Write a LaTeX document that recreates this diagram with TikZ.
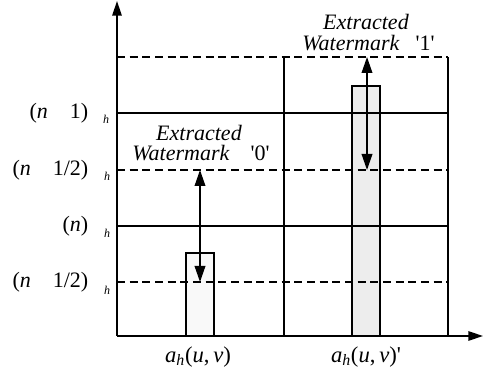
\documentclass[tikz,border=0pt]{standalone}
\usepackage{fontspec}
\setmainfont{Liberation Serif}
\usetikzlibrary{arrows.meta}
\tikzset{
  grid solid/.style={line width=1.25pt},
  grid dashed/.style={line width=1.25pt,dash pattern=on 6pt off 3.5pt},
  bar edge/.style={line width=1.1pt},
  axis/.style={line width=1.5pt,-{Triangle[length=11pt,width=7pt]}},
  swing/.style={line width=1.1pt,{Triangle[length=12pt,width=8pt]}-{Triangle[length=12pt,width=8pt]}},
  level label/.style={anchor=east,font=\fontsize{16.5}{18}\selectfont},
  sub label/.style={font=\fontsize{9}{10}\selectfont\itshape},
  mark label/.style={font=\fontsize{16.5}{18}\selectfont},
  coef label/.style={font=\fontsize{17}{19}\selectfont}
}
\begin{document}
\begin{tikzpicture}[x=0.75pt,y=0.75pt]
  \useasboundingbox (0,0) rectangle (484,373);
  % bars
  \fill[gray!5] (186,37) rectangle (214,120);
  \fill[gray!14] (352,37) rectangle (380,287);
  % levels
  \draw[grid dashed] (117,316)--(448,316);
  \draw[grid solid] (117,260)--(448,260);
  \draw[grid dashed] (117,203)--(448,203);
  \draw[grid solid] (117,147)--(448,147);
  \draw[grid dashed] (117,91)--(448,91);
  \draw[grid solid] (284,37)--(284,316);
  \draw[grid solid] (448,37)--(448,316);
  \draw[bar edge] (186,37) rectangle (214,120);
  \draw[bar edge] (352,37) rectangle (380,287);
  % axes
  \coordinate (orig) at (117,37);
  \coordinate (ytip) at (117,372);
  \coordinate (xtip) at (483,37);
  \draw[axis] (orig)--(ytip);
  \draw[axis] (orig)--(xtip);
  % extraction arrows
  \coordinate (top0) at (200,203);
  \coordinate (bot0) at (200,91);
  \coordinate (top1) at (367,316);
  \coordinate (bot1) at (367,203);
  \draw[swing] (top0)--(bot0);
  \draw[swing] (top1)--(bot1);
  % level labels
  \node[level label] (lv1) at (93,260) {(\textit{n}\hspace{1em}1)};
  \node[level label] (lv2) at (93,203) {(\textit{n}\hspace{1em}1/2)};
  \node[level label] (lv3) at (93,147) {(\textit{n})};
  \node[level label] (lv4) at (93,91) {(\textit{n}\hspace{1em}1/2)};
  \node[sub label] (h1) at (106,254) {h};
  \node[sub label] (h2) at (107,197) {h};
  \node[sub label] (h3) at (107,140) {h};
  \node[sub label] (h4) at (107,83) {h};
  % watermark labels
  \node[mark label] (ext0) at (199,240) {\textit{Extracted}};
  \node[mark label] (wm0) at (181,220) {\textit{Watermark}};
  \node[mark label] (bit0) at (260,220) {\textquotesingle 0\textquotesingle};
  \node[mark label] (ext1) at (366,351) {\textit{Extracted}};
  \node[mark label] (wm1) at (351,330) {\textit{Watermark}};
  \node[mark label] (bit1) at (425,330) {\textquotesingle 1\textquotesingle};
  % coefficients
  \node[coef label] (c0) at (198,16) {\textit{a}\textsubscript{\textit{h}}(\textit{u},\,\textit{v})};
  \node[coef label] (c1) at (366,16) {\textit{a}\textsubscript{\textit{h}}(\textit{u},\,\textit{v})\textquotesingle};
\end{tikzpicture}
\end{document}
